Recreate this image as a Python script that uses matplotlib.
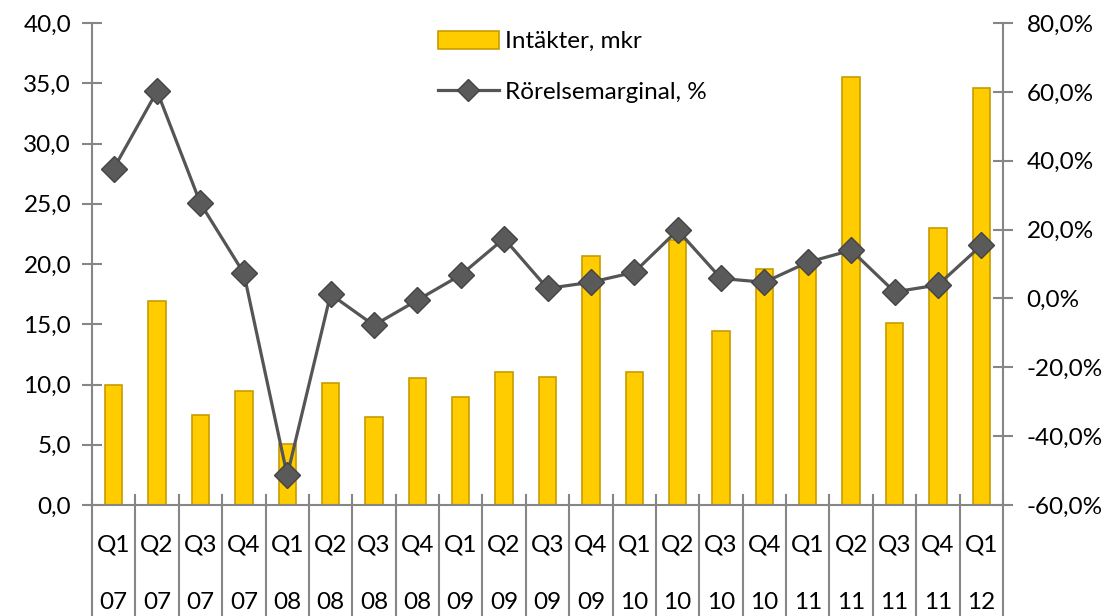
import matplotlib
matplotlib.use('Agg')
import matplotlib.pyplot as plt
import matplotlib.transforms as mtransforms
from matplotlib.patches import Patch
from matplotlib.lines import Line2D
import numpy as np

plt.rcParams['font.family'] = ['Lato', 'DejaVu Sans']

quarters = ['Q1', 'Q2', 'Q3', 'Q4', 'Q1', 'Q2', 'Q3', 'Q4', 'Q1', 'Q2', 'Q3',
            'Q4', 'Q1', 'Q2', 'Q3', 'Q4', 'Q1', 'Q2', 'Q3', 'Q4', 'Q1']
years = ['07', '07', '07', '07', '08', '08', '08', '08', '09', '09', '09',
         '09', '10', '10', '10', '10', '11', '11', '11', '11', '12']

# Intäkter, mkr
revenue = [10.0, 16.9, 7.5, 9.5, 5.1, 10.1, 7.3, 10.5, 9.0, 11.0, 10.6,
           20.7, 11.0, 22.0, 14.4, 19.6, 20.3, 35.5, 15.1, 23.0, 34.6]
# Rörelsemarginal, %
margin = [37.7, 60.2, 27.6, 7.3, -51.4, 1.2, -7.8, -0.5, 6.8, 17.4, 2.9,
          4.7, 7.6, 19.8, 5.8, 4.7, 10.5, 14.0, 1.9, 3.9, 15.4]

left_ticks = [0, 5, 10, 15, 20, 25, 30, 35, 40]
left_labels = ['0,0', '5,0', '10,0', '15,0', '20,0', '25,0', '30,0', '35,0', '40,0']
right_ticks = [-60, -40, -20, 0, 20, 40, 60, 80]
right_labels = ['-60,0%', '-40,0%', '-20,0%', '0,0%', '20,0%', '40,0%', '60,0%', '80,0%']

bar_color = '#FFCC00'
bar_edge = '#C89B00'
line_color = '#555555'
axis_color = '#868686'
fs = 17.5

fig = plt.figure(figsize=(11.17, 6.16), dpi=100)
ax = fig.add_axes([92 / 1117, 1 - 505 / 616, (1003 - 92) / 1117, (505 - 23) / 616])
ax2 = ax.twinx()

x = np.arange(len(quarters))
ax.bar(x, revenue, width=0.4, color=bar_color, edgecolor=bar_edge, linewidth=1.2, zorder=2)
ax2.plot(x, margin, color=line_color, linewidth=2.3, marker='D', markersize=13,
         markerfacecolor='#5a5a5a', markeredgecolor='#444444', zorder=3)

ax.set_xlim(-0.5, len(quarters) - 0.5)
ax.set_ylim(0, 40)
ax2.set_ylim(-60, 80)
ax.set_yticks(left_ticks)
ax.set_yticklabels(left_labels)
ax2.set_yticks(right_ticks)
ax2.set_yticklabels(right_labels)
ax.set_xticks([])

for a in (ax, ax2):
    for s in a.spines.values():
        s.set_visible(False)
    a.tick_params(axis='y', direction='inout', length=14, width=1.5, color=axis_color,
                  labelsize=fs, labelcolor='black')
ax.tick_params(axis='y', pad=8)
ax2.tick_params(axis='y', pad=10)
ax.spines['left'].set_visible(True)
ax.spines['left'].set_color(axis_color)
ax.spines['left'].set_linewidth(1.5)
ax2.spines['right'].set_visible(True)
ax2.spines['right'].set_color(axis_color)
ax2.spines['right'].set_linewidth(1.5)
ax.spines['bottom'].set_visible(True)
ax.spines['bottom'].set_color(axis_color)
ax.spines['bottom'].set_linewidth(1.5)

# category separators and two-row labels
trans = mtransforms.blended_transform_factory(ax.transData, ax.transAxes)
for b in np.arange(-0.5, len(quarters), 1.0):
    ax.plot([b, b], [0.021, -0.24], color=axis_color, linewidth=1.5, transform=trans,
            clip_on=False, zorder=1)
for i, (q, yr) in enumerate(zip(quarters, years)):
    ax.text(i, -0.083, q, transform=trans, ha='center', va='center', fontsize=fs)
    ax.text(i, -0.203, yr, transform=trans, ha='center', va='center', fontsize=fs)

handles = [Patch(facecolor=bar_color, edgecolor=bar_edge, linewidth=1.2),
           Line2D([0], [0], color=line_color, linewidth=2.3, marker='D', markersize=11,
                  markerfacecolor='#5a5a5a', markeredgecolor='#444444')]
ax2.legend(handles, ['Intäkter, mkr', 'Rörelsemarginal, %'], loc='upper left',
           bbox_to_anchor=(416 / 1117, 1 - 9 / 616), bbox_transform=fig.transFigure,
           frameon=False, fontsize=fs, handlelength=2.5, handleheight=0.75,
           handletextpad=0.25, labelspacing=1.2)

fig.savefig('out.png', dpi=100)
